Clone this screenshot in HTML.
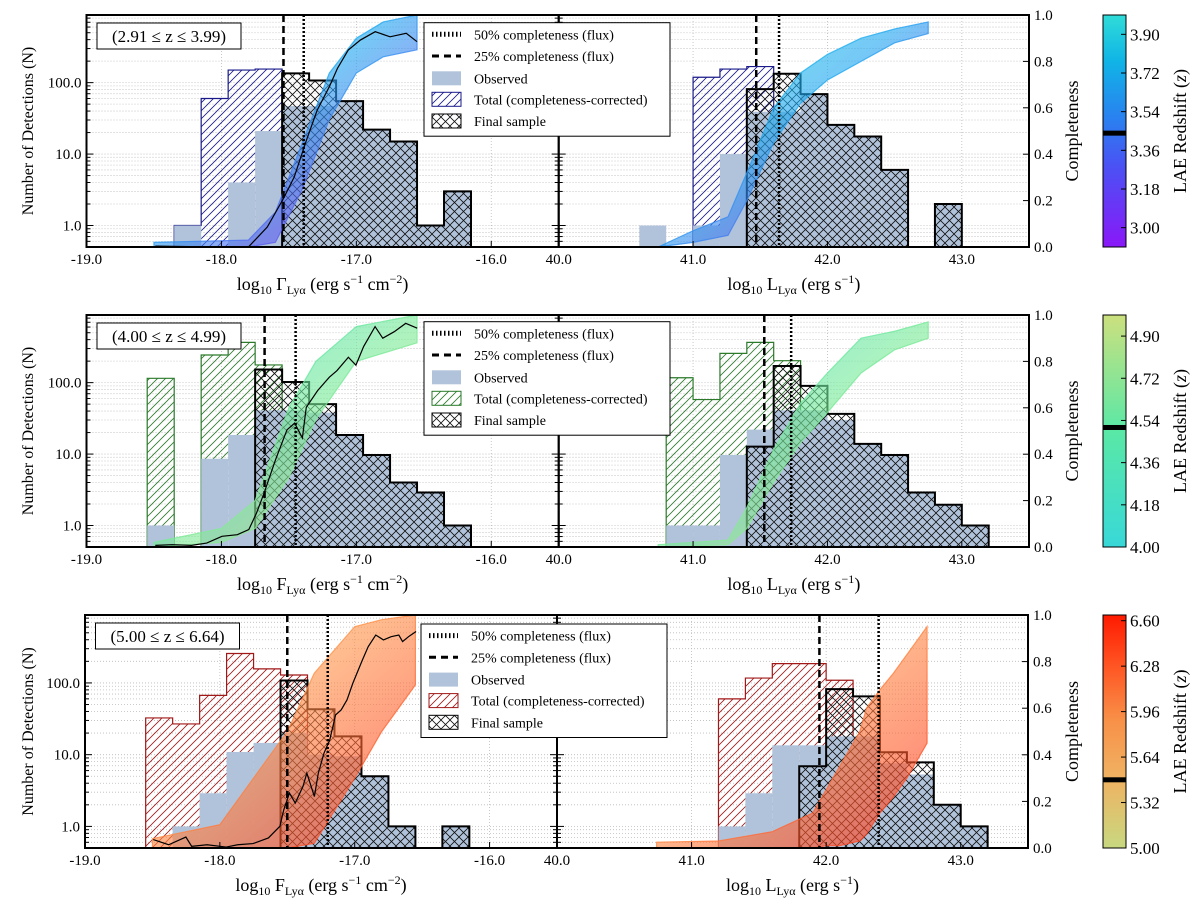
<!DOCTYPE html>
<html><head><meta charset="utf-8"><title>LAE completeness histograms</title>
<style>
html,body{margin:0;padding:0;background:#fff;}
svg{display:block;font-family:"Liberation Serif","DejaVu Serif",serif;}
</style></head>
<body>
<svg id="fig" width="1200" height="904" viewBox="0 0 1200 904" xmlns="http://www.w3.org/2000/svg">
<defs>
<pattern id="hatchNavy" patternUnits="userSpaceOnUse" width="8" height="8"><path d="M-1,1 l2,-2 M0,8 l8,-8 M7,9 l2,-2" stroke="#1a1a8a" stroke-width="0.8"/></pattern>
<pattern id="hatchGreen" patternUnits="userSpaceOnUse" width="8" height="8"><path d="M-1,1 l2,-2 M0,8 l8,-8 M7,9 l2,-2" stroke="#2a7a2a" stroke-width="0.8"/></pattern>
<pattern id="hatchRed" patternUnits="userSpaceOnUse" width="8" height="8"><path d="M-1,1 l2,-2 M0,8 l8,-8 M7,9 l2,-2" stroke="#a01818" stroke-width="0.8"/></pattern>
<pattern id="cross" patternUnits="userSpaceOnUse" width="9" height="9"><path d="M0,0 L9,9 M9,0 L0,9" stroke="#111" stroke-width="0.8"/></pattern>
<linearGradient id="band0" x1="0" y1="0" x2="1" y2="1"><stop offset="0" stop-color="#20e0e0"/><stop offset="0.45" stop-color="#20a8f0"/><stop offset="0.7" stop-color="#5a60f0"/><stop offset="1" stop-color="#9040f0"/></linearGradient>
<linearGradient id="band1" x1="0" y1="0" x2="1" y2="1"><stop offset="0" stop-color="#30dcd0"/><stop offset="0.5" stop-color="#78ea98"/><stop offset="1" stop-color="#c8e488"/></linearGradient>
<linearGradient id="band2" x1="0" y1="0" x2="1" y2="1"><stop offset="0" stop-color="#f4c878"/><stop offset="0.45" stop-color="#ff9048"/><stop offset="1" stop-color="#ff2a14"/></linearGradient>
<linearGradient id="cb0" x1="0" y1="1" x2="0" y2="0"><stop offset="0" stop-color="#8a18f8"/><stop offset="0.35" stop-color="#4a52f4"/><stop offset="0.55" stop-color="#2a80f0"/><stop offset="0.8" stop-color="#10b4e6"/><stop offset="1" stop-color="#30dcd8"/></linearGradient>
<linearGradient id="cb1" x1="0" y1="1" x2="0" y2="0"><stop offset="0" stop-color="#38d8d8"/><stop offset="0.5" stop-color="#5ae8a6"/><stop offset="1" stop-color="#cce07e"/></linearGradient>
<linearGradient id="cb2" x1="0" y1="1" x2="0" y2="0"><stop offset="0" stop-color="#c8d880"/><stop offset="0.3" stop-color="#f0b262"/><stop offset="0.55" stop-color="#f89048"/><stop offset="0.8" stop-color="#ff5020"/><stop offset="1" stop-color="#ff1a00"/></linearGradient>
</defs>
</svg>
<script>
// ---------- DATA ----------
const fluxBins = [-18.55,-18.35,-18.15,-17.95,-17.75,-17.55,-17.35,-17.15,-16.95,-16.75,-16.55,-16.35];
const lumBins = [40.6,40.8,41.0,41.2,41.4,41.6,41.8,42.0,42.2,42.4,42.6,42.8,43.0];
const binWidth = 0.2;

const r1FluxObs   = [0,1,0,4,21,47,47,55,22,15,1,3];
const r1FluxFinal = [0,0,0,0,0,135,107,55,22,15,1,3];
const r1FluxTotal = [0,1,60,150,155,0,0,0,0,0,0,0];
const r1LumObs    = [1,0,1,10,39,39,69,25.6,17.6,6,0,2,0];
const r1LumFinal  = [0,0,0,0,81,133,69,25.6,17.6,6,0,2,0];
const r1LumTotal  = [0,0,119,155,168,0,0,0,0,0,0,0,0];

const r2FluxObs   = [1,0,8.6,18.5,41,41,38,18.5,9.7,4,2.9,1];
const r2FluxFinal = [0,0,0,0,153,102,50,18.5,9.7,4,2.9,1];
const r2FluxTotal = [115,0,244,366,177,0,0,0,0,0,0,0];
const r2LumObs    = [0,1,1,9.7,22,41,41,30,13.9,9.7,2.9,1.95,1];
const r2LumFinal  = [0,0,0,0,12.7,171,90,36.5,13.9,9.7,2.9,1.95,1];
const r2LumTotal  = [0,117,58,257,366,203,0,0,0,0,0,0,0];

const r3FluxObs   = [0,1,2.9,10.9,14.6,20,10,9.5,5,1,0,1];
const r3FluxFinal = [0,0,0,0,0,108,43,18,5,1,0,1];
const r3FluxTotal = [32.5,26.8,67,257,157,129,0,0,0,0,0,0];
const r3LumObs    = [0,0,0,1,2.9,13.5,13.5,18,18,7.6,5.3,2,1];
const r3LumFinal  = [0,0,0,0,0,0,6.9,82,65,10.8,7.8,2,1];
const r3LumTotal  = [0,0,0,60,117,186,186,109,0,0,0,0,0];

// mean completeness (black line) in flux panels
const r1MeanX = [-18.49,-18.05,-17.80,-17.66,-17.54,-17.46,-17.37,-17.29,-17.20,-17.14,-17.06,-16.97,-16.86,-16.75,-16.63,-16.55];
const r1MeanC = [0.004,0,0,0.086,0.209,0.302,0.46,0.59,0.691,0.77,0.849,0.892,0.928,0.906,0.921,0.885];
const r2MeanX = [-18.49,-18.365,-18.222,-18.109,-17.996,-17.882,-17.797,-17.74,-17.684,-17.599,-17.514,-17.457,-17.40,-17.371,-17.287,-17.2,-17.144,-17.059,-17.003,-16.946,-16.861,-16.804,-16.719,-16.634,-16.549];
const r2MeanC = [0.007,0.01,0.007,0.017,0.046,0.053,0.075,0.146,0.232,0.376,0.505,0.534,0.47,0.602,0.674,0.732,0.76,0.818,0.784,0.864,0.95,0.9,0.928,0.964,0.943];
const r3MeanX = [-18.494,-18.38,-18.252,-18.209,-18.095,-17.953,-17.868,-17.754,-17.64,-17.555,-17.526,-17.484,-17.441,-17.384,-17.355,-17.327,-17.299,-17.27,-17.228,-17.185,-17.142,-17.1,-17.057,-17.014,-16.943,-16.9,-16.844,-16.787,-16.73,-16.673,-16.645,-16.601,-16.545];
const r3MeanC = [0.036,0.014,0.047,0.007,0.014,0.004,0.014,0.019,0.043,0.093,0.164,0.236,0.193,0.264,0.321,0.271,0.221,0.321,0.407,0.464,0.571,0.593,0.636,0.707,0.807,0.864,0.914,0.893,0.907,0.914,0.886,0.907,0.929];

// completeness curve bundles (envelopes)
const r1FBandX  = [-18.5,-17.8,-17.6,-17.4,-17.2,-17.0,-16.8,-16.55];
const r1FBandHi = [0.02,0.03,0.15,0.45,0.75,0.9,0.97,1.0];
const r1FBandLo = [0,0,0.02,0.25,0.55,0.75,0.82,0.85];
const r1LBandX  = [40.74,41.0,41.26,41.4,41.6,41.8,42.0,42.25,42.5,42.75];
const r1LBandHi = [0.0,0.07,0.13,0.32,0.6,0.75,0.83,0.9,0.94,0.97];
const r1LBandLo = [0,0.02,0.05,0.2,0.45,0.62,0.72,0.8,0.88,0.92];
const r2FBandX  = [-18.5,-18.0,-17.75,-17.5,-17.3,-17.0,-16.55];
const r2FBandHi = [0.02,0.08,0.2,0.6,0.8,0.95,1.0];
const r2FBandLo = [0,0.02,0.08,0.3,0.55,0.8,0.88];
const r2LBandX  = [40.74,41.26,41.4,41.6,41.8,42.0,42.25,42.5,42.75];
const r2LBandHi = [0.01,0.03,0.17,0.42,0.62,0.75,0.9,0.93,0.97];
const r2LBandLo = [0,0.01,0.08,0.28,0.45,0.58,0.75,0.85,0.9];
const r3FBandX  = [-18.5,-18.0,-17.5,-17.3,-17.0,-16.8,-16.55];
const r3FBandHi = [0.04,0.1,0.5,0.75,0.95,0.98,1.0];
const r3FBandLo = [0,0,0,0.02,0.3,0.5,0.7];
const r3LBandX  = [40.74,41.2,41.6,41.9,42.0,42.1,42.25,42.3,42.4,42.5,42.6,42.75];
const r3LBandHi = [0.025,0.03,0.07,0.15,0.25,0.35,0.5,0.6,0.68,0.75,0.83,0.95];
const r3LBandLo = [0,0,0,0,0.01,0.01,0.03,0.06,0.15,0.22,0.3,0.45];

// completeness cuts
const fluxCut25 = [-17.54,-17.68,-17.50];
const fluxCut50 = [-17.39,-17.45,-17.20];
const lumCut25  = [41.47,41.53,41.95];
const lumCut50  = [41.64,41.73,42.39];

const zLabels = ["(2.91 \u2264 z \u2264 3.99)","(4.00 \u2264 z \u2264 4.99)","(5.00 \u2264 z \u2264 6.64)"];
const cbMin = [2.91,4.00,5.00];
const cbMax = [3.99,4.99,6.64];
const cbTicks = [["3.00","3.18","3.36","3.54","3.72","3.90"],["4.00","4.18","4.36","4.54","4.72","4.90"],["5.00","5.32","5.64","5.96","6.28","6.60"]];
const cbMarker = [3.44,4.51,5.48];
const yTickLabels = ["1.0","10.0","100.0"];
const yTickVals = [1,10,100];
const cTickLabels = ["0.0","0.2","0.4","0.6","0.8","1.0"];
const fluxTickLabels = ["-19.0","-18.0","-17.0","-16.0"];
const lumTickLabels = ["40.0","41.0","42.0","43.0"];

// ---------- LAYOUT ----------
const rows = [{t:15,b:247,l:86.5,m:558.7,r:1029},{t:315,b:547,l:86.5,m:558.7,r:1029},{t:615,b:848,l:85,m:557,r:1028}];
const YMIN=0.5, YMAX=885;
const hatchIds=["hatchNavy","hatchGreen","hatchRed"];
const totalColors=["#1a1a8a","#2a7a2a","#a01818"];
const legendBox=[{x:424,y:22.7},{x:424,y:321.7},{x:421,y:624}];
const svg=document.getElementById('fig');
const NS='http://www.w3.org/2000/svg';
function mk(tag,attrs,parent){const e=document.createElementNS(NS,tag);for(const k in attrs)e.setAttribute(k,attrs[k]);(parent||svg).appendChild(e);return e;}
function fx(R,v){return R.l+(v+19)/3.5*(R.m-R.l);}
function lx(R,v){return R.m+(v-40)/3.5*(R.r-R.m);}
function yN(R,v){return R.b-(Math.log10(v)-Math.log10(YMIN))/(Math.log10(YMAX)-Math.log10(YMIN))*(R.b-R.t);}
function yC(R,c){return R.b-c*(R.b-R.t);}

function drawHistRects(R,xf,bins,vals,fill,stroke,name,g){
  vals.forEach((v,i)=>{ if(v<=0) return;
    const x0=xf(R,bins[i]), x1=xf(R,bins[i]+binWidth), y=yN(R,v);
    const r=mk('rect',{x:x0,y:y,width:x1-x0,height:R.b-y,fill:fill},g);
    
    
  });
}
function drawOutline(R,xf,bins,vals,color,w,name,g){
  let first=vals.findIndex(v=>v>0), last=-1; vals.forEach((v,i)=>{if(v>0)last=i;});
  if(first<0) return;
  let d='M'+xf(R,bins[first])+','+R.b;
  for(let i=first;i<=last;i++){const h=vals[i]>0?yN(R,vals[i]):R.b;d+=' L'+xf(R,bins[i])+','+h+' L'+xf(R,bins[i]+binWidth)+','+h;}
  d+=' L'+xf(R,bins[last]+binWidth)+','+R.b;
  const p=mk('path',{d:d,fill:'none',stroke:color,'stroke-width':w},g);
  
  
}
function drawBand(R,xf,X,hi,lo,grad,name,g){
  let pts=X.map((x,i)=>xf(R,x)+','+yC(R,hi[i]));
  for(let i=X.length-1;i>=0;i--)pts.push(xf(R,X[i])+','+yC(R,lo[i]));
  const p=mk('polygon',{points:pts.join(' '),fill:'url(#'+grad+')','fill-opacity':0.62,stroke:'url(#'+grad+')','stroke-width':1.2,'stroke-opacity':0.8},g);
  
  
}
function drawLine(R,xf,X,C,name,g){
  const d='M'+X.map((x,i)=>xf(R,x)+','+yC(R,C[i])).join(' L');
  const p=mk('path',{d:d,fill:'none',stroke:'#000','stroke-width':1.2},g);
  
  
}
function vline(R,xf,v,dash,name,g){
  const x=xf(R,v);
  const l=mk('line',{x1:x,x2:x,y1:R.t,y2:R.b,stroke:'#000','stroke-width':2.5,'stroke-dasharray':dash},g);
  
  
}
function text(x,y,s,attrs,name,parent){
  const t=mk('text',Object.assign({x:x,y:y,'font-size':15,fill:'#000'},attrs||{}),parent);
  t.textContent=s;
  
  
  return t;
}

const allData=[
 [r1FluxObs,r1FluxFinal,r1FluxTotal,r1LumObs,r1LumFinal,r1LumTotal,r1MeanX,r1MeanC,r1FBandX,r1FBandHi,r1FBandLo,r1LBandX,r1LBandHi,r1LBandLo],
 [r2FluxObs,r2FluxFinal,r2FluxTotal,r2LumObs,r2LumFinal,r2LumTotal,r2MeanX,r2MeanC,r2FBandX,r2FBandHi,r2FBandLo,r2LBandX,r2LBandHi,r2LBandLo],
 [r3FluxObs,r3FluxFinal,r3FluxTotal,r3LumObs,r3LumFinal,r3LumTotal,r3MeanX,r3MeanC,r3FBandX,r3FBandHi,r3FBandLo,r3LBandX,r3LBandHi,r3LBandLo]];

rows.forEach((R,ri)=>{
  const D=allData[ri];
  const g=mk('g',{});
  
  
  // grid
  const grid=mk('g',{stroke:'#bbb','stroke-width':0.8,'stroke-dasharray':'1,2'},g);
  
  
  for(let dec=0.1;dec<1000;dec*=10){for(let k=1;k<10;k++){const v=dec*k; if(v<YMIN||v>YMAX)continue; const y=yN(R,v);
    const gl=mk('line',{x1:R.l,x2:R.r,y1:y,y2:y},grid);
    
    }}
  [-18,-17,-16].forEach(v=>{const x=fx(R,v);const gl=mk('line',{x1:x,x2:x,y1:R.t,y2:R.b},grid);
    
    });
  [41,42,43].forEach(v=>{const x=lx(R,v);const gl=mk('line',{x1:x,x2:x,y1:R.t,y2:R.b},grid);
    
    });
  // histograms flux
  drawHistRects(R,fx,fluxBins,D[2],'url(#'+hatchIds[ri]+')','none','flux-total',g);
  drawOutline(R,fx,fluxBins,D[2],totalColors[ri],1.2,'flux-total',g);
  drawHistRects(R,fx,fluxBins,D[0],'#b1c3da','none','flux-observed',g);
  drawHistRects(R,fx,fluxBins,D[1],'url(#cross)','none','flux-final',g);
  drawOutline(R,fx,fluxBins,D[1],'#000',2,'flux-final',g);
  // histograms lum
  drawHistRects(R,lx,lumBins,D[5],'url(#'+hatchIds[ri]+')','none','lum-total',g);
  drawOutline(R,lx,lumBins,D[5],totalColors[ri],1.2,'lum-total',g);
  drawHistRects(R,lx,lumBins,D[3],'#b1c3da','none','lum-observed',g);
  drawHistRects(R,lx,lumBins,D[4],'url(#cross)','none','lum-final',g);
  drawOutline(R,lx,lumBins,D[4],'#000',2,'lum-final',g);
  // completeness
  drawBand(R,fx,D[8],D[9],D[10],'band'+ri,'flux-completeness-bundle',g);
  drawBand(R,lx,D[11],D[12],D[13],'band'+ri,'lum-completeness-bundle',g);
  drawLine(R,fx,D[6],D[7],'mean-completeness-line',g);
  vline(R,fx,fluxCut25[ri],'7,4','flux-25pct-line',g);
  vline(R,fx,fluxCut50[ri],'2,2','flux-50pct-line',g);
  vline(R,lx,lumCut25[ri],'7,4','lum-25pct-line',g);
  vline(R,lx,lumCut50[ri],'2,2','lum-50pct-line',g);
  // frames
  [[R.l,R.m],[R.m,R.r]].forEach((p,pi)=>{const fr=mk('rect',{x:p[0],y:R.t,width:p[1]-p[0],height:R.b-R.t,fill:'none',stroke:'#000','stroke-width':2},g);
    
    });
  // y ticks (log)
  const tk=mk('g',{stroke:'#000','stroke-width':1},g);
  
  
  for(let dec=0.1;dec<1000;dec*=10){for(let k=1;k<10;k++){const v=dec*k;if(v<YMIN||v>YMAX)continue;const y=yN(R,v);const len=k===1?7:4;
    [[R.l,1],[R.m,1],[R.m,-1]].forEach(s=>{const t=mk('line',{x1:s[0],x2:s[0]+s[1]*len,y1:y,y2:y},tk);
      
      });}}
  yTickVals.forEach((v,i)=>text(R.l-5,yN(R,v)+5,yTickLabels[i],{'text-anchor':'end'},'y-tick-label',g));
  cTickLabels.forEach((s,i)=>{const y=yC(R,i*0.2);
    const t=mk('line',{x1:R.r,x2:R.r-6,y1:y,y2:y,stroke:'#000'},g);
    
    
    text(R.r+5,y+5,s,{},'completeness-tick-label',g);});
  fluxTickLabels.forEach((s,i)=>{const x=fx(R,-19+i);text(x,R.b+17,s,{'text-anchor':'middle'},'x-tick-label',g);
    const t=mk('line',{x1:x,x2:x,y1:R.b,y2:R.b-6,stroke:'#000'},g);
    
    });
  lumTickLabels.forEach((s,i)=>{const x=lx(R,40+i);text(x,R.b+17,s,{'text-anchor':'middle'},'x-tick-label',g);
    const t=mk('line',{x1:x,x2:x,y1:R.b,y2:R.b-6,stroke:'#000'},g);
    
    });
  // axis labels
  const fl=text((R.l+R.m)/2,R.b+43,'',{'text-anchor':'middle','font-size':18},'flux-x-axis-title',g);
  fl.innerHTML='log<tspan font-size="12" dy="4">10</tspan><tspan dy="-4"> '+(ri===0?'\u0393':'F')+'</tspan><tspan font-size="12" dy="4">Ly\u03b1</tspan><tspan dy="-4"> (erg s</tspan><tspan font-size="12" dy="-7">\u22121</tspan><tspan dy="7"> cm</tspan><tspan font-size="12" dy="-7">\u22122</tspan><tspan dy="7">)</tspan>';
  const ll=text((R.m+R.r)/2,R.b+43,'',{'text-anchor':'middle','font-size':18},'lum-x-axis-title',g);
  ll.innerHTML='log<tspan font-size="12" dy="4">10</tspan><tspan dy="-4"> L</tspan><tspan font-size="12" dy="4">Ly\u03b1</tspan><tspan dy="-4"> (erg s</tspan><tspan font-size="12" dy="-7">\u22121</tspan><tspan dy="7">)</tspan>';
  const cy=(R.t+R.b)/2;
  text(33,cy,'Number of Detections (N)',{'text-anchor':'middle','font-size':16,transform:'rotate(-90 33 '+cy+')'},'y-axis-title',g);
  text(1078,cy,'Completeness',{'text-anchor':'middle','font-size':18,transform:'rotate(-90 1078 '+cy+')'},'completeness-axis-title',g);
  // z label box
  const zb=mk('rect',{x:R.l+10.5,y:R.t+8,width:144,height:26,fill:'#fff',stroke:'#000','stroke-width':1},g);
  
  
  text(R.l+82.5,R.t+27,zLabels[ri],{'text-anchor':'middle','font-size':17},'redshift-range-label',g);
  // legend
  const L=legendBox[ri];
  const lg=mk('g',{},g);
  
  
  const lb=mk('rect',{x:L.x,y:L.y,width:246,height:113.5,fill:'#fff',stroke:'#000','stroke-width':1},lg);
  
  
  const offs=[11.6,33.3,55.6,76.6,98.3];
  const names=['50% completeness (flux)','25% completeness (flux)','Observed','Total (completeness-corrected)','Final sample'];
  offs.forEach((o,i)=>{const y=L.y+o, hx=L.x+8;
    if(i<2){const h=mk('line',{x1:hx,x2:hx+29,y1:y,y2:y,stroke:'#000','stroke-width':i===0?5:3,'stroke-dasharray':i===0?'1.5,2.5':'7,5'},lg);
      
      }
    else{const f=i===2?'#b1c3da':(i===3?'url(#'+hatchIds[ri]+')':'url(#cross)');
      const h=mk('rect',{x:hx,y:y-7,width:29,height:14,fill:f,stroke:i===2?'none':(i===3?totalColors[ri]:'#000'),'stroke-width':1},lg);
      
      }
    text(L.x+50,y+5,names[i],{'font-size':14},'legend-entry',lg);});
  // colorbar
  const cb=mk('rect',{x:1103,y:R.t,width:23,height:R.b-R.t,fill:'url(#cb'+ri+')',stroke:'#000','stroke-width':1},g);
  
  
  const cyz=v=>R.b-(v-cbMin[ri])/(cbMax[ri]-cbMin[ri])*(R.b-R.t);
  const mkr=mk('rect',{x:1103,y:cyz(cbMarker[ri])-2.5,width:23,height:5,fill:'#000'},g);
  
  
  cbTicks[ri].forEach(s=>{const y=cyz(parseFloat(s));
    const t=mk('line',{x1:1126,x2:1121,y1:y,y2:y,stroke:'#000'},g);
    
    
    text(1130,y+6,s,{'font-size':17},'colorbar-tick-label',g);});
  const zt=text(1186,cy,'',{'text-anchor':'middle','font-size':18,transform:'rotate(-90 1186 '+cy+')'},'colorbar-title',g);
  zt.innerHTML='LAE Redshift (<tspan font-style="italic">z</tspan>)';
});
</script>
</body></html>
